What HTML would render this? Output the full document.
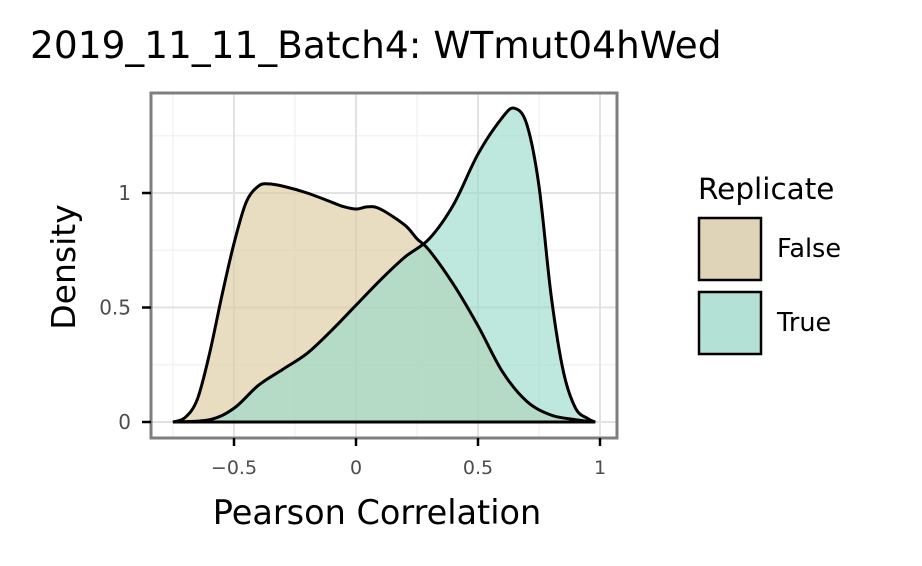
<!DOCTYPE html>
<html><head><meta charset="utf-8"><style>
body{margin:0;background:#fff;}
svg text{font-family:"DejaVu Sans","Liberation Sans",sans-serif;}
</style></head><body>
<svg id="chart" width="922" height="561">
<rect width="922" height="561" fill="#fff"/>
<text x="30" y="58" font-size="37.5" fill="#000">2019_11_11_Batch4: WTmut04hWed</text>
<g id="grid"></g>
<g id="series"></g>
<rect x="151" y="93" width="466" height="345" fill="none" stroke="#7f7f7f" stroke-width="3"/>
<g id="axes"></g>
<text x="377" y="524" font-size="33.5" text-anchor="middle">Pearson Correlation</text>
<text transform="translate(75,267) rotate(-90)" font-size="33" text-anchor="middle">Density</text>
<g>
<text x="698" y="199" font-size="29.5">Replicate</text>
<rect x="699" y="218" width="62" height="62" fill="#e0d4b8" stroke="#000" stroke-width="2.5"/>
<text x="777" y="257" font-size="25.5">False</text>
<rect x="699" y="292" width="62" height="62" fill="#b3e1d6" stroke="#000" stroke-width="2.5"/>
<text x="777" y="331" font-size="25.5">True</text>
</g>
</svg>
<script>
const xsFalse=[-0.75,-0.7,-0.65,-0.6,-0.55,-0.5,-0.45,-0.4,-0.36,-0.3,-0.2,-0.1,-0.05,0,0.05,0.1,0.2,0.25,0.3,0.4,0.5,0.6,0.7,0.8,0.9,0.98];
const ysFalse=[0,0.02,0.1,0.3,0.55,0.78,0.96,1.03,1.04,1.03,1.0,0.96,0.94,0.93,0.94,0.93,0.86,0.8,0.75,0.6,0.42,0.22,0.09,0.03,0.01,0];
const xsTrue=[-0.75,-0.6,-0.5,-0.4,-0.3,-0.2,-0.1,0,0.1,0.2,0.3,0.4,0.5,0.6,0.65,0.7,0.75,0.8,0.85,0.9,0.95,0.98];
const ysTrue=[0,0.01,0.06,0.16,0.23,0.3,0.4,0.51,0.62,0.72,0.8,0.95,1.17,1.33,1.37,1.3,1.03,0.55,0.22,0.06,0.015,0];
const xTicks=[-0.5,0,0.5,1], xTickLabels=["\u22120.5","0","0.5","1"];
const yTicks=[0,0.5,1], yTickLabels=["0","0.5","1"];
const X=v=>356+v*244, Y=v=>422-v*229;
const NS="http://www.w3.org/2000/svg";
function mk(t,a,p){const e=document.createElementNS(NS,t);for(const k in a)e.setAttribute(k,a[k]);p.appendChild(e);return e;}
const grid=document.getElementById('grid'),ser=document.getElementById('series'),ax=document.getElementById('axes');
[-0.75,-0.25,0.25,0.75].forEach(v=>{const l=mk('line',{x1:X(v),x2:X(v),y1:93,y2:438,stroke:'#f3f3f3','stroke-width':1.5},grid);});
[0.25,0.75,1.25].forEach(v=>{const l=mk('line',{x1:151,x2:617,y1:Y(v),y2:Y(v),stroke:'#f3f3f3','stroke-width':1.5},grid);});
xTicks.forEach((v,i)=>{const l=mk('line',{x1:X(v),x2:X(v),y1:93,y2:438,stroke:'#e3e3e3','stroke-width':2},grid);
const t=mk('line',{x1:X(v),x2:X(v),y1:438,y2:446,stroke:'#000','stroke-width':2.5},ax);
const tx=mk('text',{x:X(v),y:474,'font-size':19,'text-anchor':'middle',fill:'#4d4d4d'},ax);tx.textContent=xTickLabels[i];});
yTicks.forEach((v,i)=>{const l=mk('line',{x1:151,x2:617,y1:Y(v),y2:Y(v),stroke:'#e3e3e3','stroke-width':2},grid);
const t=mk('line',{x1:142,x2:151,y1:Y(v),y2:Y(v),stroke:'#000','stroke-width':2.5},ax);
const tx=mk('text',{x:131,y:Y(v)+7,'font-size':20,'text-anchor':'end',fill:'#4d4d4d'},ax);tx.textContent=yTickLabels[i];});
function smooth(xs,ys){const p=xs.map((x,i)=>[X(x),Y(ys[i])]);let d='M'+p[0][0]+','+p[0][1];
for(let i=0;i<p.length-1;i++){const p0=p[i-1]||p[i],p1=p[i],p2=p[i+1],p3=p[i+2]||p2;
const c1=[p1[0]+(p2[0]-p0[0])/6,p1[1]+(p2[1]-p0[1])/6],c2=[p2[0]-(p3[0]-p1[0])/6,p2[1]-(p3[1]-p1[1])/6];
d+=`C${c1[0]},${Math.min(c1[1],Y(0))} ${c2[0]},${Math.min(c2[1],Y(0))} ${p2[0]},${p2[1]}`;}return d;}
const dF=smooth(xsFalse,ysFalse),dT=smooth(xsTrue,ysTrue);
const f=mk('path',{d:dF+'Z',fill:'#dccb9e','fill-opacity':0.65,stroke:'none'},ser);
const t=mk('path',{d:dT+'Z',fill:'#92d9c8','fill-opacity':0.6,stroke:'none'},ser);
const fo=mk('path',{d:dF+'Z',fill:'none',stroke:'#000','stroke-width':3},ser);
const to=mk('path',{d:dT+'Z',fill:'none',stroke:'#000','stroke-width':3},ser);
</script>
</body></html>
